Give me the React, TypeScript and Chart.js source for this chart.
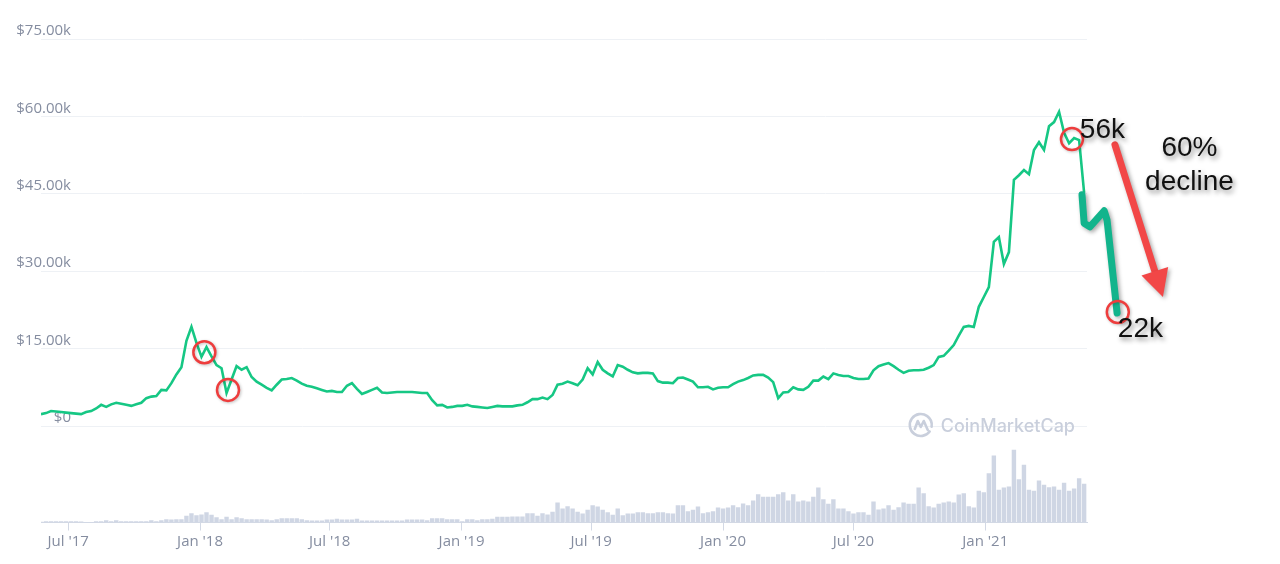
import React, { useEffect, useRef } from 'react';
import { Chart, registerables } from 'chart.js';

Chart.register(...registerables);

// ---------- data ----------
const axisOrigin = '2017-07-01';
const firstWeek = '2017-05-24';
const xAxisStart = '2017-05-24';
const xAxisEnd = '2021-05-23';

const xTickDates = ['2017-07-01', '2018-01-01', '2018-07-01', '2019-01-01', '2019-07-01', '2020-01-01', '2020-07-01', '2021-01-01'];
const xTickLabels = ["Jul '17", "Jan '18", "Jul '18", "Jan '19", "Jul '19", "Jan '20", "Jul '20", "Jan '21"];

const priceTicksK = [0, 15, 30, 45, 60, 75];

// weekly BTC price, thousands of USD
const priceK = [
  2.3, 2.5, 2.9, 2.8, 2.7, 2.6, 2.5, 2.4, 2.3, 2.7,
  2.9, 3.4, 4.1, 3.7, 4.2, 4.5, 4.3, 4.1, 3.9, 4.2,
  4.5, 5.4, 5.7, 5.8, 7.0, 6.9, 8.3, 10.0, 11.4, 16.5,
  19.2, 16.1, 13.4, 15.3, 13.5, 11.8, 11.2, 6.4, 9.0, 11.6,
  10.9, 11.4, 9.5, 8.6, 8.0, 7.4, 6.9, 8.0, 9.0, 9.1,
  9.3, 8.8, 8.2, 7.8, 7.6, 7.3, 7.0, 6.7, 6.8, 6.6,
  6.6, 7.8, 8.3, 7.2, 6.2, 6.6, 7.0, 7.4, 6.5, 6.4,
  6.5, 6.6, 6.6, 6.6, 6.6, 6.5, 6.4, 6.4, 5.0, 4.0,
  4.1, 3.6, 3.7, 3.9, 3.9, 4.1, 3.8, 3.7, 3.6, 3.5,
  3.7, 3.9, 3.8, 3.8, 3.8, 4.0, 4.1, 4.6, 5.2, 5.2,
  5.5, 5.2, 6.0, 8.0, 8.2, 8.6, 8.3, 7.9, 9.0, 11.2,
  10.0, 12.4, 10.9, 10.2, 9.6, 11.8, 11.5, 10.9, 10.4, 10.2,
  10.3, 10.3, 10.2, 8.7, 8.4, 8.4, 8.3, 9.3, 9.4, 9.0,
  8.6, 7.5, 7.5, 7.6, 7.1, 7.4, 7.5, 7.5, 8.1, 8.6,
  8.9, 9.3, 9.8, 9.9, 9.9, 9.4, 8.5, 5.4, 6.5, 6.6,
  7.5, 7.1, 7.0, 7.6, 8.8, 8.8, 9.6, 9.1, 10.2, 9.9,
  9.7, 9.7, 9.3, 9.1, 9.1, 9.2, 10.8,
  11.6, 11.9, 12.2, 11.6, 10.9, 10.3, 10.7, 10.8, 10.8, 10.9,
  11.3, 11.8, 13.4, 13.6, 14.6, 15.7, 17.5, 19.2, 19.4, 19.2,
  23.1, 25.0, 26.9, 35.7, 36.6, 31.4, 33.7, 47.7, 48.6, 49.6,
  48.8, 53.5, 55.0, 53.5, 58.1, 58.9, 60.9, 56.8, 54.8, 55.8,
  55.4, 45.2,
];

// weekly trading volume (relative units)
const volumes = [
  0.7, 1.3, 1.3, 1.3, 1.3, 1.3, 1.3, 1.3, 1, 0.3,
  0.3, 1.3, 1.3, 2.3, 1.3, 2.3, 1.3, 1.3, 1.3, 1.3,
  1.3, 1.3, 2.3, 1.3, 2.3, 3.3, 3, 3.3, 3.3, 6.7,
  9.3, 7.3, 8, 10.3, 7.7, 5.3, 3.3, 5.7, 3.3, 5.3,
  4.3, 3.3, 3.3, 3.3, 3.3, 3, 2.3, 3.3, 4.3, 4.3,
  4.3, 4.3, 3.3, 2.3, 2, 2, 2, 3, 3, 3.7,
  3, 3, 3, 3.7, 2, 2, 2, 2, 2, 2,
  2, 2, 2, 3, 3, 3, 3, 2.3, 4.3, 4.3,
  4.3, 3.3, 3.3, 3.3, 1.3, 3.3, 3.3, 2.3, 3.3, 3.3,
  3.7, 5.7, 5.7, 5.7, 6, 6, 6, 9.3, 9.3, 6.7,
  9.3, 8, 10.7, 20, 14, 16.3, 14, 10.7, 9, 12.7,
  17.3, 16, 12.7, 10.3, 7.7, 14, 7.3, 9, 9, 10.3,
  10.3, 9.3, 9.3, 10.3, 10.3, 9.3, 9, 17.3, 17.3, 11.3,
  12.7, 16, 9.3, 10.3, 11.3, 15, 14, 15, 17.3, 15.3,
  19, 17.3, 22, 28.3, 25.7, 25.7, 25.7, 28.3, 30.3, 22,
  28.3, 21, 22, 21, 25.7, 35, 23.3, 18.7, 23.3, 14,
  14, 11.3, 9, 10.3, 10.3, 7.7, 21, 13, 14, 17.3,
  12.7, 15.3, 20, 18.7, 18.7, 35, 29.3, 16.3, 15, 18.7,
  20, 21, 20, 28, 29.3, 16.3, 15, 31.7, 30.3, 49.3,
  67, 32.7, 35, 36, 72.7, 43.3, 57.7, 32.7, 31.7, 42,
  37.7, 35.3, 36, 32.7, 39.7, 31.7, 34, 44.3, 38.7,
];

// annotations (date, price in $k)
const circleDates = ['2018-01-07', '2018-02-09', '2021-05-02', '2021-07-05'];
const circleValues = [14.3, 7.0, 55.6, 22.1];

const projectionDates = ['2021-05-16', '2021-05-19', '2021-05-27', '2021-06-16', '2021-06-20', '2021-07-04'];
const projectionValues = [44.8, 39.3, 38.6, 41.7, 39.9, 21.9];

const arrowDates = ['2021-07-01', '2021-09-06'];
const arrowValues = [54.5, 25.0];

const noteTexts = ['56k', '60%', 'decline', '22k'];
const noteDates = ['2021-05-13', '2021-10-13', '2021-10-13', '2021-07-05'];
const noteValues = [55.8, 52.3, 45.7, 17.2];
const noteAlign: CanvasTextAlign[] = ['left', 'center', 'center', 'left'];

// ---------- helpers ----------
const DAY_MS = 86400000;
const dayOf = (iso: string) => (Date.parse(iso) - Date.parse(axisOrigin)) / DAY_MS;
const weekDays = priceK.map((_, i) => dayOf(firstWeek) + i * 7);

const AXIS_TEXT = '#858da0';
const AXIS_FONT_SIZE = 15;
const AXIS_FONT_FAMILY = '"Open Sans", sans-serif';
const yLabel = (v: number) => (v === 0 ? '$0' : `$${v.toFixed(2)}k`);

function widestYLabel(): number {
  const c = document.createElement('canvas').getContext('2d');
  if (!c) return 54;
  c.font = `${AXIS_FONT_SIZE}px ${AXIS_FONT_FAMILY}`;
  return Math.max(...priceTicksK.map((v) => c.measureText(yLabel(v)).width));
}

const annotationPlugin = {
  id: 'cmcAnnotations',
  beforeDatasetsDraw(chart: any) {
    const { ctx, chartArea } = chart;
    const ys = chart.scales.y;
    const cy = ys.getPixelForValue(0) + 1;
    ctx.save();
    ctx.font = '500 18px Inter, "Open Sans", sans-serif';
    ctx.fillStyle = '#c9cfdc';
    ctx.textAlign = 'right';
    ctx.textBaseline = 'middle';
    const textRight = chartArea.right - 12;
    ctx.fillText('CoinMarketCap', textRight, cy);
    const w = ctx.measureText('CoinMarketCap').width;
    const lx = textRight - w - 20;
    const ly = cy - 2;
    ctx.strokeStyle = '#c9cfdc';
    ctx.lineWidth = 2.6;
    ctx.lineCap = 'round';
    ctx.lineJoin = 'round';
    ctx.beginPath();
    ctx.arc(lx, ly, 11, 0.2 * Math.PI, 2.05 * Math.PI);
    ctx.stroke();
    ctx.beginPath();
    ctx.moveTo(lx - 6, ly + 4);
    ctx.lineTo(lx - 3, ly - 4);
    ctx.lineTo(lx, ly + 2);
    ctx.lineTo(lx + 3, ly - 4);
    ctx.lineTo(lx + 7, ly + 5);
    ctx.stroke();
    ctx.restore();
  },
  afterDatasetsDraw(chart: any) {
    const { ctx } = chart;
    const xs = chart.scales.x;
    const ys = chart.scales.y;
    const px = (d: string) => xs.getPixelForValue(dayOf(d));
    const py = (v: number) => ys.getPixelForValue(v);

    ctx.save();
    ctx.shadowColor = 'rgba(0,0,0,0.35)';
    ctx.shadowBlur = 4;
    ctx.shadowOffsetX = 2;
    ctx.shadowOffsetY = 2;

    // hand-drawn projection
    ctx.beginPath();
    projectionDates.forEach((d, i) => {
      const x = px(d);
      const y = py(projectionValues[i]);
      if (i === 0) ctx.moveTo(x, y);
      else ctx.lineTo(x, y);
    });
    ctx.strokeStyle = '#12b48c';
    ctx.lineWidth = 7;
    ctx.lineCap = 'round';
    ctx.lineJoin = 'round';
    ctx.stroke();

    // red arrow
    const x1 = px(arrowDates[0]);
    const y1 = py(arrowValues[0]);
    const x2 = px(arrowDates[1]);
    const y2 = py(arrowValues[1]);
    const ang = Math.atan2(y2 - y1, x2 - x1);
    const headLen = 27;
    const headHalf = 14;
    const bx = x2 - headLen * Math.cos(ang);
    const by = y2 - headLen * Math.sin(ang);
    ctx.strokeStyle = '#f24747';
    ctx.fillStyle = '#f24747';
    ctx.lineWidth = 7;
    ctx.lineCap = 'round';
    ctx.beginPath();
    ctx.moveTo(x1, y1);
    ctx.lineTo(bx, by);
    ctx.stroke();
    ctx.beginPath();
    ctx.moveTo(x2, y2);
    ctx.lineTo(bx - headHalf * Math.sin(ang), by + headHalf * Math.cos(ang));
    ctx.lineTo(bx + headHalf * Math.sin(ang), by - headHalf * Math.cos(ang));
    ctx.closePath();
    ctx.fill();

    // circles
    ctx.shadowBlur = 3;
    ctx.shadowOffsetX = 1;
    ctx.shadowOffsetY = 1;
    ctx.shadowColor = 'rgba(0,0,0,0.25)';
    ctx.strokeStyle = '#ee3d3d';
    ctx.lineWidth = 2.5;
    circleDates.forEach((d, i) => {
      ctx.beginPath();
      ctx.arc(px(d), py(circleValues[i]), 11, 0, Math.PI * 2);
      ctx.stroke();
    });

    // texts
    ctx.shadowColor = 'rgba(0,0,0,0.45)';
    ctx.shadowBlur = 5;
    ctx.shadowOffsetX = 2;
    ctx.shadowOffsetY = 3;
    ctx.fillStyle = '#111111';
    ctx.font = '28px "Liberation Sans", Arial, sans-serif';
    ctx.textBaseline = 'alphabetic';
    noteTexts.forEach((t, i) => {
      ctx.textAlign = noteAlign[i];
      ctx.fillText(t, px(noteDates[i]), py(noteValues[i]));
    });
    ctx.restore();
  },
};

export default function App() {
  const canvasRef = useRef<HTMLCanvasElement | null>(null);

  useEffect(() => {
    if (!canvasRef.current) return;
    Chart.defaults.font.family = AXIS_FONT_FAMILY;
    const yAxisWidth = 41;
    const labelRightEdge = 71;
    const yPadding = labelRightEdge - yAxisWidth - widestYLabel();
    const chart = new Chart(canvasRef.current, {
      type: 'bar',
      data: {
        datasets: [
          {
            type: 'line',
            label: 'Price',
            data: priceK.map((v, i) => ({ x: weekDays[i], y: v })),
            yAxisID: 'y',
            borderColor: '#16c784',
            borderWidth: 2.6,
            pointRadius: 0,
            tension: 0,
            fill: false,
            order: 0,
          } as any,
          {
            type: 'bar',
            label: 'Volume',
            data: volumes.map((v, i) => ({ x: weekDays[i], y: v })),
            yAxisID: 'yVol',
            backgroundColor: '#cfd6e4',
            barPercentage: 0.88,
            categoryPercentage: 1,
            order: 1,
          } as any,
        ],
      },
      options: {
        animation: false,
        responsive: false,
        maintainAspectRatio: false,
        layout: { padding: { top: 39, right: 193, left: 0, bottom: 0 } },
        plugins: {
          legend: { display: false },
          tooltip: { enabled: false },
        },
        scales: {
          x: {
            type: 'linear',
            offset: false,
            min: dayOf(xAxisStart),
            max: dayOf(xAxisEnd),
            afterBuildTicks: (s: any) => {
              s.ticks = xTickDates.map((d) => ({ value: dayOf(d) }));
            },
            afterFit: (s: any) => {
              s.height = 41.5;
            },
            ticks: {
              callback: (_v: any, i: number) => xTickLabels[i],
              color: AXIS_TEXT,
              font: { size: AXIS_FONT_SIZE },
              padding: 2,
              maxRotation: 0,
              autoSkip: false,
            },
            grid: { offset: false, drawOnChartArea: false, drawTicks: true, tickLength: 8, color: '#d3d9e5' },
            border: { display: true, color: '#d3d9e5' },
          },
          y: {
            position: 'left',
            min: -18.7,
            max: 75,
            afterBuildTicks: (s: any) => {
              s.ticks = priceTicksK.map((v) => ({ value: v }));
            },
            afterFit: (s: any) => {
              s.width = yAxisWidth;
            },
            ticks: {
              callback: (v: any) => yLabel(Number(v)),
              color: AXIS_TEXT,
              font: { size: AXIS_FONT_SIZE },
              mirror: true,
              crossAlign: 'far',
              padding: yPadding,
              labelOffset: -8,
            },
            grid: { color: '#eef1f5', drawTicks: false },
            border: { display: false },
          },
          yVol: {
            display: false,
            min: 0,
            max: 483.5,
          },
        },
      } as any,
      plugins: [annotationPlugin],
    });
    return () => chart.destroy();
  }, []);

  return (
    <div style={{ position: 'fixed', left: 0, top: 0, width: 1280, height: 564, background: '#ffffff' }}>
      <canvas ref={canvasRef} width={1280} height={564} style={{ display: 'block' }} />
    </div>
  );
}
